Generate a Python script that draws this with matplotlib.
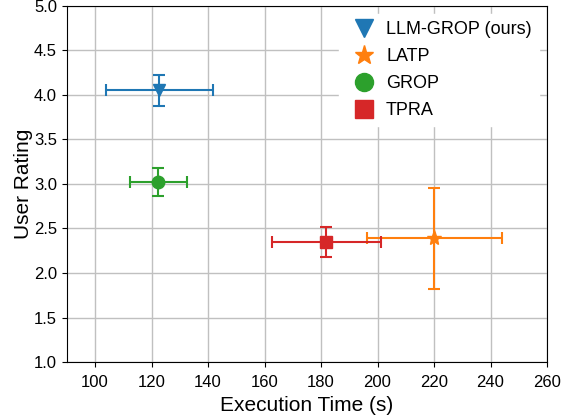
import matplotlib
matplotlib.use("Agg")
import matplotlib.pyplot as plt
from matplotlib.lines import Line2D

plt.rcParams['font.family'] = ['Liberation Sans', 'DejaVu Sans']

methods = ["LLM-GROP (ours)", "LATP", "GROP", "TPRA"]
exec_time = [122.7, 220.1, 122.4, 181.8]
exec_err = [19.0, 23.9, 10.1, 19.3]
rating = [4.05, 2.39, 3.02, 2.35]
rating_err = [0.17, 0.57, 0.16, 0.17]
markers = ["v", "*", "o", "s"]
colors = ["#1f77b4", "#ff7f0e", "#2ca02c", "#d62728"]
xticks = [100, 120, 140, 160, 180, 200, 220, 240, 260]
yticks = [1.0, 1.5, 2.0, 2.5, 3.0, 3.5, 4.0, 4.5, 5.0]

fig = plt.figure(figsize=(5.71, 4.2), dpi=100)
ax = fig.add_axes([0.117, 0.138, 0.841, 0.848])

for m, x, xe, y, ye, mk, c in zip(methods, exec_time, exec_err, rating, rating_err, markers, colors):
    ax.errorbar(x, y, xerr=xe, yerr=ye, fmt=mk, color=c, ms=9 if mk != "*" else 11,
                capsize=4, elinewidth=1.5, capthick=1.5, zorder=3)

ax.set_xlim(90, 260)
ax.set_ylim(1.0, 5.0)
ax.set_xticks(xticks)
ax.set_yticks(yticks)
ax.set_yticklabels([f"{v:.1f}" for v in yticks])
ax.tick_params(labelsize=12, direction='out', length=3.5)
ax.tick_params(axis='x', pad=6)
ax.grid(True, color='#c0c0c0', linewidth=1.0)
ax.set_axisbelow(True)
ax.set_xlabel("Execution Time (s)", fontsize=15, labelpad=4)
ax.set_ylabel("User Rating", fontsize=15, labelpad=1)

handles = [Line2D([], [], linestyle='none', marker=mk, color=c,
                  markersize=13 if mk != "*" else 14)
           for mk, c in zip(markers, colors)]
leg = ax.legend(handles, methods, loc='upper right', fontsize=13, frameon=True,
                framealpha=1.0, edgecolor='white', handletextpad=0.2,
                labelspacing=0.55, borderaxespad=0.45)

fig.savefig("out.png", dpi=100)
